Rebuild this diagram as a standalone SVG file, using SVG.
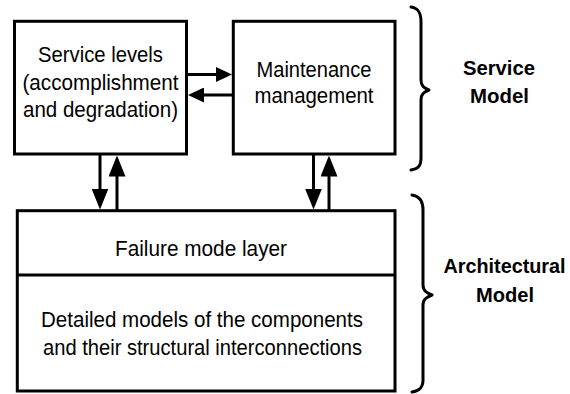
<svg xmlns="http://www.w3.org/2000/svg" width="570" height="394" viewBox="0 0 570 394">
  <style>
    .box { fill: #ffffff; stroke: #000000; stroke-width: 3; }
    .div { stroke: #000000; stroke-width: 3; fill: none; }
    .conn { stroke: #000000; stroke-width: 3; fill: none; }
    .brace { stroke: #000000; stroke-width: 3; fill: none; stroke-linecap: round; stroke-linejoin: round; }
    .t { font-family: "Liberation Sans", Arial, Helvetica, sans-serif; font-size: 22px; fill: #000000; text-anchor: middle; }
    .b { font-family: "Liberation Sans", Arial, Helvetica, sans-serif; font-size: 21px; font-weight: bold; fill: #000000; text-anchor: middle; }
    .b2 { font-size: 20px; }
  </style>
  <defs>
    <marker id="ah" viewBox="0 0 16 15" refX="12" refY="7.5" markerWidth="16" markerHeight="15" markerUnits="userSpaceOnUse" orient="auto">
      <path d="M0,0 L16,7.5 L0,15 z" fill="#000000"/>
    </marker>
    <marker id="av" viewBox="0 0 21 17" refX="17" refY="8.5" markerWidth="21" markerHeight="17" markerUnits="userSpaceOnUse" orient="auto">
      <path d="M0,0 L21,8.5 L0,17 z" fill="#000000"/>
    </marker>
  </defs>

  <g id="service-levels">
    <rect class="box" x="14.5" y="21.3" width="172" height="132.7"/>
    <text class="t" x="100.5" y="62" textLength="125" lengthAdjust="spacingAndGlyphs">Service levels</text>
    <text class="t" x="100.5" y="90" textLength="156" lengthAdjust="spacingAndGlyphs">(accomplishment</text>
    <text class="t" x="100.5" y="117" textLength="155" lengthAdjust="spacingAndGlyphs">and degradation)</text>
  </g>

  <g id="maintenance-management">
    <rect class="box" x="233.3" y="21.3" width="161.7" height="132.7"/>
    <text class="t" x="314" y="77" textLength="115" lengthAdjust="spacingAndGlyphs">Maintenance</text>
    <text class="t" x="314" y="103" textLength="119" lengthAdjust="spacingAndGlyphs">management</text>
  </g>

  <g id="architecture-box">
    <rect class="box" x="17.3" y="210.7" width="377.7" height="180.3"/>
    <line class="div" x1="17.3" y1="275" x2="395" y2="275"/>
    <text class="t" x="201" y="256" textLength="172" lengthAdjust="spacingAndGlyphs">Failure mode layer</text>
    <text class="t" x="202" y="327" textLength="322" lengthAdjust="spacingAndGlyphs">Detailed models of the components</text>
    <text class="t" x="202.5" y="355" textLength="319" lengthAdjust="spacingAndGlyphs">and their structural interconnections</text>
  </g>

  <g id="service-model-label">
    <path class="brace" d="M411,7 C418,8 421,12 421,22 L421,80 C421,86 424,88 429,90 C424,92 421,94 421,100 L421,158 C421,166 418,169 411,170"/>
    <text class="b" x="499" y="75" textLength="72" lengthAdjust="spacingAndGlyphs">Service</text>
    <text class="b" x="499.5" y="103" textLength="59" lengthAdjust="spacingAndGlyphs">Model</text>
  </g>

  <g id="architectural-model-label">
    <path class="brace" d="M412,195 C419,196 423,200 423,210 L423,285 C423,291 427,293 432,295 C427,297 423,299 423,305 L423,380 C423,388 419,391 412,392"/>
    <text class="b b2" x="504.5" y="273" textLength="122" lengthAdjust="spacingAndGlyphs">Architectural</text>
    <text class="b" x="505" y="302" textLength="58" lengthAdjust="spacingAndGlyphs">Model</text>
  </g>

  <g id="connectors">
    <line class="conn" x1="187" y1="74.5" x2="228" y2="74.5" marker-end="url(#ah)"/>
    <line class="conn" x1="233" y1="95" x2="192" y2="95" marker-end="url(#ah)"/>
    <line class="conn" x1="100" y1="155" x2="100" y2="205.5" marker-end="url(#av)"/>
    <line class="conn" x1="117" y1="210" x2="117" y2="159.5" marker-end="url(#av)"/>
    <line class="conn" x1="313.5" y1="155" x2="313.5" y2="205.5" marker-end="url(#av)"/>
    <line class="conn" x1="329" y1="210" x2="329" y2="159.5" marker-end="url(#av)"/>
  </g>
</svg>
